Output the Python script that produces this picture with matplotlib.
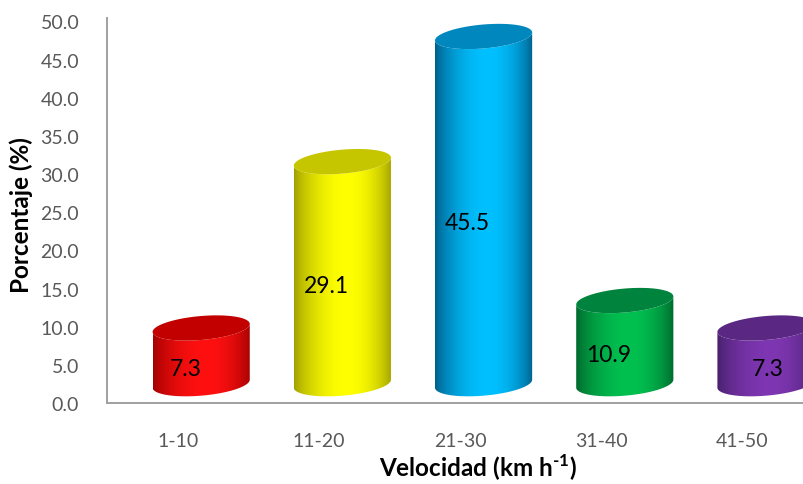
import numpy as np
import matplotlib
matplotlib.use("Agg")
import matplotlib.pyplot as plt
from matplotlib.path import Path
from matplotlib.patches import PathPatch
from matplotlib.colors import to_rgb

# Data
categories = ["1-10", "11-20", "21-30", "31-40", "41-50"]
values = [7.3, 29.1, 45.5, 10.9, 7.3]
yticks = [0, 5, 10, 15, 20, 25, 30, 35, 40, 45, 50]

# Cylinder shading: bright centre colour, dark edge colour, top-cap colour
bright = ["#FF1010", "#FFFF00", "#00C0FF", "#00C050", "#7E36B2"]
dark = ["#A00000", "#9E9E00", "#005C88", "#00662C", "#46206A"]
cap = ["#C20000", "#C6C600", "#0088BE", "#00833C", "#5A2882"]
label_dx = [0.055, 0.055, 0.05, 0.055, 0.18]

plt.rcParams["font.family"] = ["Lato", "DejaVu Sans"]
plt.rcParams["mathtext.fontset"] = "custom"
plt.rcParams["mathtext.rm"] = "Lato:bold"
plt.rcParams["mathtext.bf"] = "Lato:bold"

W, H = 804, 485
fig = plt.figure(figsize=(W / 100, H / 100), dpi=100)
ax_left, ax_right = 107, 813
ax_top, ax_bot = 19, 404
ax = fig.add_axes([ax_left / W, (H - ax_bot) / H,
                   (ax_right - ax_left) / W, (ax_bot - ax_top) / H])

ymax = 50.45
ax.set_xlim(-0.5, len(categories) - 0.5)
ax.set_ylim(0, ymax)

# 3D geometry (in data units)
depth_dx = 0.167      # shift of cylinders to the right
depth_dy = 2.53       # shift of cylinders upward
half_w = 0.344        # cylinder half width
ell_b = 1.57          # ellipse half height
shear = 1.52          # tilt of the ellipses (right side higher)


def ellipse_pts(cx, cy, theta):
    x = cx + half_w * np.cos(theta)
    y = cy + ell_b * np.sin(theta) + shear * (x - cx)
    return x, y


def profile(t, peak=0.55):
    u = np.where(t < peak, t / peak, (1 - t) / (1 - peak))
    return np.sin(np.clip(u, 0, 1) * np.pi / 2) ** 0.75


for i, v in enumerate(values):
    cx = i + depth_dx
    y0 = depth_dy
    y1 = v + depth_dy

    # Body outline: front bottom arc, right side, front top arc back, left side
    th_b = np.linspace(np.pi, 2 * np.pi, 80)
    bx, by = ellipse_pts(cx, y0, th_b)
    th_t = np.linspace(2 * np.pi, np.pi, 80)
    tx, ty = ellipse_pts(cx, y1, th_t)
    verts = np.vstack([np.column_stack([bx, by]), np.column_stack([tx, ty]),
                       [[bx[0], by[0]]]])
    codes = [Path.MOVETO] + [Path.LINETO] * (len(verts) - 2) + [Path.CLOSEPOLY]
    body = PathPatch(Path(verts, codes), facecolor="none", edgecolor="none",
                     clip_on=False)
    ax.add_patch(body)

    # Horizontal gradient clipped to the body
    t = np.linspace(0, 1, 300)
    g = profile(t)[:, None]
    cb = np.array(to_rgb(bright[i]))
    cd = np.array(to_rgb(dark[i]))
    grad = cd + (cb - cd) * g
    img = ax.imshow(grad[None, :, :], extent=(cx - half_w, cx + half_w,
                                             y0 - 3 * ell_b, y1 + 3 * ell_b),
                    aspect="auto", interpolation="bilinear", zorder=2,
                    origin="lower")
    img.set_clip_path(body)

    # Top cap
    th = np.linspace(0, 2 * np.pi, 160)
    ex, ey = ellipse_pts(cx, y1, th)
    ax.fill(ex, ey, color=cap[i], zorder=3, clip_on=False, lw=0)

    # Value label
    ax.text(i + label_dx[i], v / 2 + 0.85, f"{v:.1f}", ha="center",
            va="center", fontsize=16.5, color="black", zorder=4)

ax.set_xlim(-0.5, len(categories) - 0.5)
ax.set_ylim(0, ymax)

ax.set_xticks(range(len(categories)))
ax.set_xticklabels(categories)
ax.set_yticks(yticks)
ax.set_yticklabels([f"{y:.1f}" for y in yticks])
ax.tick_params(axis="both", length=0, labelsize=14, labelcolor="#595959")
ax.tick_params(axis="x", pad=21)
ax.tick_params(axis="y", pad=20)

for side in ("top", "right"):
    ax.spines[side].set_visible(False)
for side in ("left", "bottom"):
    ax.spines[side].set_color("#A0A0A0")
    ax.spines[side].set_linewidth(1.4)

fig.text(21 / W, 1 - 215 / H, "Porcentaje (%)", rotation=90, ha="center",
         va="center", fontsize=17.5, fontweight="bold", color="black")
fig.text(478 / W, 1 - 477 / H, r"Velocidad (km h$^{\text{-1}}$)",
         ha="center", va="baseline", fontsize=17.5, fontweight="bold",
         color="black")

fig.savefig("out.png", dpi=100)
